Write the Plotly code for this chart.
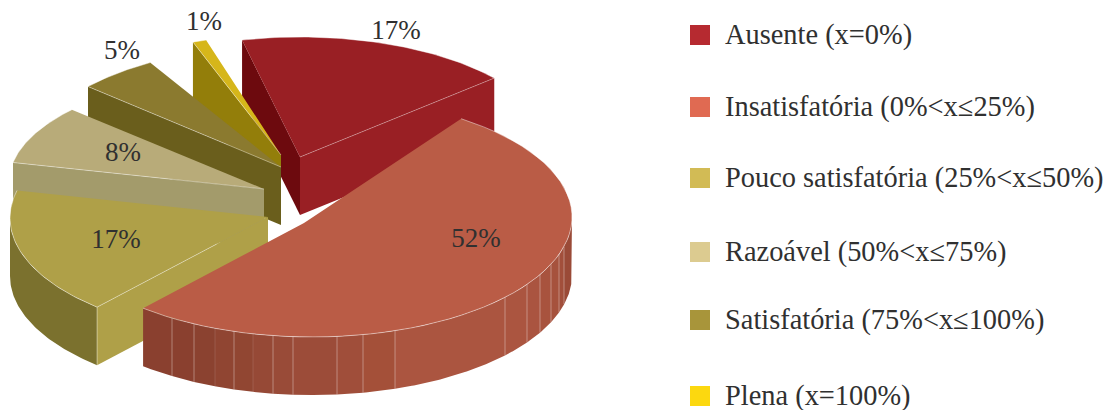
import numpy as np
import plotly.graph_objects as go

# ---- data ----
categories = ["Ausente (x=0%)", "Insatisfatória (0%<x≤25%)", "Pouco satisfatória (25%<x≤50%)",
              "Razoável (50%<x≤75%)", "Satisfatória (75%<x≤100%)", "Plena (x=100%)"]
values = [17, 52, 17, 8, 5, 1]

# ---- colours ----
legend_colors = ["#b62a30", "#e06a52", "#d2bb55", "#dccb90", "#a8953a", "#fcd80f"]
top_colors = ["#991f24", "#ba5c46", "#afa048", "#b8ab79", "#8b7a2f", "#d6b61a"]
radial_colors = ["#6d0a0e", "#8a402f", "#afa048", "#a39b6b", "#6a5e1c", "#937e0a"]
rim_color = "rgba(255,255,255,0.45)"
text_color = "#303030"
FONT = "Liberation Serif"

# ---- 3D projection geometry (one entry per slice, same order as values) ----
arc_cx = [300, 312, 268, 264, 281, 281]
arc_cy = [148, 217, 218, 182, 163, 150]
arc_rx = [250, 260, 258, 255, 255, 255]
arc_ry = [111, 120, 119, 110, 117, 115]
apex_x = [300, 304, 268, 264, 281, 281]
apex_y = [157, 223, 217, 189, 167, 155]
start_deg = [103.4, 55.0, -131.5, 169.8, 139.2, 110.2]
foreshorten = [1.052, 0.991, 1.011, 1.073, 1.017, 0.861]
DEPTH = 58
label_x = [396, 476, 116, 123, 122, 204]
label_y = [32, 240, 241, 154, 52, 23]
legend_y = [35, 107, 178, 252, 320, 396]
legend_text_y = [37, 109, 180, 254, 322, 398]

seam_x = [143, 172, 194, 215, 234, 253, 273, 293, 337, 363, 395, 505, 527, 540, 551, 559, 564, 572]
seam_colors = ["#8a402f", "#8a402f", "#8b4230", "#904532", "#914632", "#964936", "#994b38", "#9c4c39",
               "#a04e3a", "#a45039", "#ab5540", "#ab5540", "#aa5440", "#a8533e", "#a6523d", "#a24f3b", "#9a4a37"]

fig = go.Figure()


def poly(xs, ys, color):
    fig.add_trace(go.Scatter(x=list(xs), y=list(ys), mode="lines", fill="toself", fillcolor=color,
                             line=dict(width=0, color=color), hoverinfo="skip", showlegend=False))


def stroke(xs, ys, color=rim_color, width=1):
    fig.add_trace(go.Scatter(x=list(xs), y=list(ys), mode="lines", line=dict(width=width, color=color),
                             hoverinfo="skip", showlegend=False))


def arc(i, t0, t1, n=60):
    t = np.radians(np.linspace(t0, t1, n))
    return arc_cx[i] + arc_rx[i] * np.cos(t), arc_cy[i] - arc_ry[i] * np.sin(t)


def span(i):
    return start_deg[i], start_deg[i] - 3.6 * values[i] * foreshorten[i]


def radial_wall(i, t, color):
    x, y = arc(i, t, t, 1)
    poly([apex_x[i], x[0], x[0], apex_x[i]],
         [apex_y[i], y[0], y[0] + DEPTH, apex_y[i] + DEPTH], color)


def arc_wall(i, t0, t1, color):
    x, y = arc(i, t0, t1)
    poly(np.r_[x, x[::-1]], np.r_[y, y[::-1] + DEPTH], color)


def top(i):
    t0, t1 = span(i)
    x, y = arc(i, t0, t1)
    poly(np.r_[apex_x[i], x], np.r_[apex_y[i], y], top_colors[i])
    stroke(x, y)


# Ausente
t0, t1 = span(0)
radial_wall(0, t1, top_colors[0])
radial_wall(0, t0, radial_colors[0])
top(0)
x, y = arc(0, t1, t1, 1)
stroke([apex_x[0], x[0]], [apex_y[0], y[0]], "rgba(255,255,255,0.3)")

# Plena, Satisfatória, Razoável
for i in (5, 4, 3):
    t0, t1 = span(i)
    radial_wall(i, t0, radial_colors[i])
    top(i)
    x, y = arc(i, t0, t0, 1)
    stroke([apex_x[i], x[0]], [apex_y[i], y[0]], "rgba(255,255,255,0.4)")

# Pouco satisfatória
t0, t1 = span(2)
arc_wall(2, t0, -180, "#7b712e")
radial_wall(2, t0, radial_colors[2])
top(2)
x, y = arc(2, t0, t0, 1)
stroke([x[0], x[0]], [y[0], y[0] + DEPTH], "rgba(255,255,255,0.4)")
mx = x[0] + 0.7 * (apex_x[2] - x[0])
my = y[0] + 0.7 * (apex_y[2] - y[0])
stroke([x[0], mx], [y[0], my], "rgba(255,255,255,0.4)")

# Insatisfatória: front wall in shaded segments
t0, t1 = span(1)
seam_t = -np.degrees(np.arccos((np.array(seam_x, dtype=float) - arc_cx[1]) / arc_rx[1]))
seam_t[0] = t1
for j in range(len(seam_x) - 1):
    arc_wall(1, seam_t[j], seam_t[j + 1], seam_colors[j])
for j in range(1, len(seam_x) - 1):
    xs, ys = arc(1, seam_t[j], seam_t[j], 1)
    alpha = 0.12 if seam_x[j] in (215, 253) else 0.35
    stroke([xs[0], xs[0]], [ys[0], ys[0] + DEPTH], f"rgba(255,255,255,{alpha})")
top(1)

# Percent labels, drawn from values
fig.add_trace(go.Scatter(x=label_x, y=label_y, mode="text", text=[f"{v}%" for v in values],
                         textposition="middle center", textfont=dict(family=FONT, size=27, color=text_color),
                         hoverinfo="skip", showlegend=False))

# Legend
fig.add_trace(go.Scatter(x=[700] * 6, y=legend_y, mode="markers",
                         marker=dict(symbol="square", size=20, color=legend_colors, line=dict(width=0)),
                         hoverinfo="skip", showlegend=False))
fig.add_trace(go.Scatter(x=[725] * 6, y=legend_text_y, mode="text", text=categories,
                         textposition="middle right", textfont=dict(family=FONT, size=28.4, color=text_color),
                         hoverinfo="skip", showlegend=False))

fig.update_layout(width=1106, height=410, margin=dict(l=0, r=0, t=0, b=0),
                  paper_bgcolor="white", plot_bgcolor="white",
                  xaxis=dict(range=[0, 1106], visible=False),
                  yaxis=dict(range=[410, 0], visible=False))
fig.write_html("out.html", config=dict(displayModeBar=False),
               post_script="document.body.style.margin='0';document.body.style.overflow='hidden';")
